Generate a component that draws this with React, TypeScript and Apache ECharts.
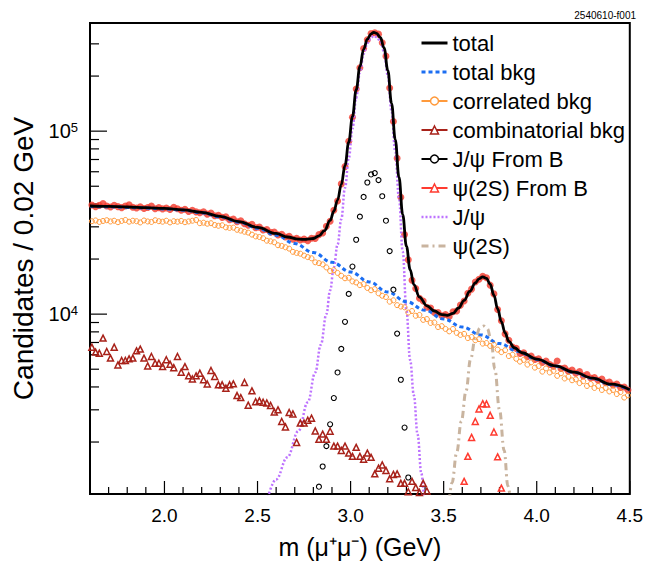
import React, { useEffect, useRef } from "react";
import * as echarts from "echarts";

const FONT = "'Liberation Sans', Arial, Helvetica, sans-serif";
const X_MIN = 1.6;
const X_MAX = 4.5;
const Y_MIN = 1040;
const Y_MAX = 3.9e5;
const BIN_START = 1.61;
const BIN_WIDTH = 0.02;

// data points (bins of 0.02 GeV from 1.61)
const DATA = [
  3.95e4, 3.86e4, 3.93e4, 4.02e4, 3.9e4, 3.85e4, 3.94e4, 3.87e4, 3.82e4, 3.9e4,
  3.96e4, 3.84e4, 3.8e4, 3.86e4, 3.78e4, 3.83e4, 3.9e4, 3.77e4, 3.82e4, 3.76e4,
  3.8e4, 3.73e4, 3.84e4, 3.77e4, 3.7e4, 3.74e4, 3.64e4, 3.7e4, 3.62e4, 3.58e4,
  3.63e4, 3.52e4, 3.57e4, 3.45e4, 3.47e4, 3.38e4, 3.4e4, 3.28e4, 3.31e4, 3.2e4,
  3.24e4, 3.12e4, 3.06e4, 3.1e4, 2.97e4, 2.99e4, 2.88e4, 2.9e4, 2.8e4, 2.81e4,
  2.71e4, 2.73e4, 2.64e4, 2.66e4, 2.57e4, 2.6e4, 2.54e4, 2.57e4, 2.52e4, 2.6e4,
  2.59e4, 2.72e4, 2.78e4, 3.02e4, 3.22e4, 3.7e4, 4.15e4, 5.15e4, 6.4e4, 8.8e4,
  1.19e5, 1.7e5, 2.22e5, 2.83e5, 3.16e5, 3.42e5, 3.45e5, 3.39e5, 3.04e5, 2.57e5,
  1.72e5, 1.13e5, 7.1e4, 4.35e4, 2.72e4, 1.98e4, 1.53e4, 1.38e4, 1.22e4, 1.18e4,
  1.09e4, 1.08e4, 1.02e4, 1.02e4, 9.8e3, 9.95e3, 9.7e3, 1.03e4, 1.04e4, 1.12e4,
  1.18e4, 1.3e4, 1.37e4, 1.5e4, 1.55e4, 1.61e4, 1.58e4, 1.44e4, 1.29e4, 1.06e4,
  9.2e3, 7.8e3, 7.2e3, 6.6e3, 6.5e3, 6.1e3, 6.15e3, 5.85e3, 5.9e3, 5.65e3,
  5.7e3, 5.45e3, 5.55e3, 5.3e3, 5.2e3, 5.55e3, 5.05e3, 5.08e3, 4.88e3, 4.95e3,
  4.75e3, 4.85e3, 4.6e3, 4.68e3, 4.48e3, 4.5e3, 4.35e3, 4.42e3, 4.22e3, 4.25e3,
  4.1e3, 4.15e3, 3.98e3, 4.0e3, 3.85e3,
];

const CORRELATED = [
  3.22e4, 3.25e4, 3.19e4, 3.23e4, 3.26e4, 3.21e4, 3.24e4, 3.18e4, 3.23e4, 3.27e4,
  3.2e4, 3.24e4, 3.22e4, 3.17e4, 3.25e4, 3.21e4, 3.19e4, 3.26e4, 3.22e4, 3.2e4,
  3.24e4, 3.17e4, 3.22e4, 3.2e4, 3.23e4, 3.18e4, 3.21e4, 3.24e4, 3.27e4, 3.14e4,
  3.16e4, 3.12e4, 3.14e4, 3.07e4, 3.04e4, 3.06e4, 2.98e4, 2.96e4, 2.97e4, 2.89e4,
  2.86e4, 2.82e4, 2.79e4, 2.72e4, 2.66e4, 2.64e4, 2.6e4, 2.52e4, 2.5e4, 2.47e4,
  2.38e4, 2.36e4, 2.32e4, 2.28e4, 2.19e4, 2.16e4, 2.14e4, 2.09e4, 2.05e4, 2.02e4,
  1.92e4, 1.9e4, 1.87e4, 1.8e4, 1.72e4, 1.74e4, 1.68e4, 1.62e4, 1.57e4, 1.58e4,
  1.51e4, 1.49e4, 1.44e4, 1.46e4, 1.39e4, 1.35e4, 1.37e4, 1.3e4, 1.26e4, 1.24e4,
  1.17e4, 1.19e4, 1.12e4, 1.1e4, 1.09e4, 1.02e4, 1.04e4, 9.8e3, 9.9e3, 9.3e3,
  9.4e3, 8.95e3, 9.0e3, 8.5e3, 8.6e3, 8.3e3, 8.05e3, 8.3e3, 7.9e3, 7.7e3,
  7.8e3, 7.4e3, 7.5e3, 7.2e3, 7.3e3, 6.9e3, 6.95e3, 6.7e3, 6.8e3, 6.4e3,
  6.2e3, 6.35e3, 5.9e3, 6.0e3, 5.7e3, 5.5e3, 5.62e3, 5.3e3, 5.45e3, 5.1e3,
  5.2e3, 4.85e3, 5.05e3, 4.8e3, 4.9e3, 4.6e3, 4.75e3, 4.45e3, 4.55e3, 4.35e3,
  4.4e3, 4.2e3, 4.3e3, 4.05e3, 4.15e3, 3.95e3, 4.05e3, 3.85e3, 3.95e3, 3.78e3,
  3.85e3, 3.66e3, 3.75e3, 3.5e3, 3.6e3,
];

const COMBINATORIAL = [
  6.6e3, 6.2e3, 6.12e3, 7.4e3, 6.25e3, 5.75e3, 6.6e3, 5.28e3, 5.58e3, 5.58e3,
  5.7e3, 5.75e3, 6.3e3, 6.44e3, 5.75e3, 5.21e3, 5.87e3, 5.39e3, 5.39e3, 5.17e3,
  5.63e3, 5.33e3, 5.1e3, 5.87e3, 4.82e3, 5.17e3, 4.6e3, 4.42e3, 4.6e3, 4.76e3,
  4.38e3, 4.15e3, 4.92e3, 4.56e3, 4.11e3, 4.11e3, 3.94e3, 4.11e3, 4.16e3, 3.59e3,
  3.5e3, 4.23e3, 3.18e3, 3.81e3, 3.32e3, 3.36e3, 3.3e3, 3.27e3, 3.17e3, 2.92e3,
  3.0e3, 2.59e3, 2.42e3, 2.9e3, 2.85e3, 1.99e3, 2.54e3, 2.54e3, 2.63e3, 2.7e3,
  2.3e3, 2.07e3, 2.21e3, 2.07e3, 2.29e3, 1.9e3, 1.9e3, 1.8e3, 1.9e3, 1.74e3,
  1.67e3, 1.87e3, 1.67e3, 1.61e3, 1.74e3, 1.65e3, 1.34e3, 1.44e3, 1.5e3, 1.4e3,
  1.26e3, 1.33e3, 1.34e3, 1.19e3, 1.19e3, 1.07e3, 1.22e3, 1.13e3, 1.06e3, 1.19e3,
  1.08e3,
];

const JPSI_B_MASS = [
  2.83, 2.85, 2.87, 2.89, 2.91, 2.93, 2.95, 2.97, 2.99, 3.01, 3.03, 3.05, 3.07,
  3.09, 3.11, 3.13, 3.15, 3.17, 3.19, 3.21, 3.23, 3.25, 3.27, 3.29, 3.31,
];
const JPSI_B = [
  1.14e3, 1.47e3, 1.9e3, 2.5e3, 3.48e3, 4.8e3, 6.46e3, 9.08e3, 1.29e4, 1.82e4,
  2.55e4, 3.41e4, 4.37e4, 5.24e4, 5.8e4, 5.9e4, 5.4e4, 4.41e4, 3.24e4, 2.21e4,
  1.36e4, 7.83e3, 4.38e3, 2.4e3, 1.28e3,
];

const PSI2S_B_MASS = [3.61, 3.63, 3.65, 3.67, 3.69, 3.71, 3.73, 3.75, 3.77, 3.79, 3.81];
const PSI2S_B = [1.22e3, 1.67e3, 2.12e3, 2.59e3, 3.03e3, 3.24e3, 3.23e3, 2.8e3, 2.27e3, 1.66e3, 1.12e3];

const TOTAL_MASS = [
  1.6, 1.7, 1.8, 1.9, 2.0, 2.1, 2.2, 2.3, 2.4, 2.5, 2.6, 2.66, 2.72, 2.76, 2.8,
  2.83, 2.86, 2.89, 2.91, 2.93, 2.95, 2.97, 2.99, 3.01, 3.03, 3.05, 3.07, 3.09,
  3.11, 3.125, 3.14, 3.16, 3.18, 3.2, 3.22, 3.24, 3.26, 3.28, 3.3, 3.32, 3.34,
  3.37, 3.41, 3.45, 3.49, 3.52, 3.55, 3.58, 3.61, 3.64, 3.67, 3.69, 3.71, 3.73,
  3.75, 3.77, 3.79, 3.81, 3.83, 3.85, 3.88, 3.92, 4.0, 4.1, 4.2, 4.3, 4.4, 4.5,
];
const TOTAL = [
  3.9e4, 3.88e4, 3.85e4, 3.82e4, 3.78e4, 3.71e4, 3.6e4, 3.42e4, 3.2e4, 2.98e4,
  2.76e4, 2.64e4, 2.57e4, 2.56e4, 2.59e4, 2.68e4, 2.86e4, 3.25e4, 3.65e4, 4.2e4,
  5.1e4, 6.5e4, 8.7e4, 1.2e5, 1.68e5, 2.25e5, 2.8e5, 3.18e5, 3.4e5, 3.47e5,
  3.42e5, 3.25e5, 2.85e5, 2.15e5, 1.42e5, 9.0e4, 5.6e4, 3.5e4, 2.35e4, 1.75e4,
  1.45e4, 1.24e4, 1.11e4, 1.04e4, 9.95e3, 9.85e3, 1.01e4, 1.08e4, 1.19e4, 1.33e4,
  1.48e4, 1.56e4, 1.6e4, 1.57e4, 1.46e4, 1.27e4, 1.07e4, 9.1e3, 7.9e3, 7.1e3,
  6.55e3, 6.15e3, 5.68e3, 5.22e3, 4.82e3, 4.47e3, 4.14e3, 3.86e3,
];

const BKG_MASS = [
  1.6, 1.7, 1.8, 1.9, 2.0, 2.1, 2.2, 2.3, 2.4, 2.5, 2.6, 2.7, 2.8, 2.9, 3.0,
  3.1, 3.2, 3.3, 3.4, 3.5, 3.6, 3.7, 3.8, 3.9, 4.0, 4.1, 4.2, 4.3, 4.4, 4.5,
];
const BKG = [
  3.88e4, 3.86e4, 3.83e4, 3.8e4, 3.76e4, 3.7e4, 3.58e4, 3.4e4, 3.18e4, 2.95e4,
  2.7e4, 2.43e4, 2.17e4, 1.92e4, 1.7e4, 1.5e4, 1.32e4, 1.17e4, 1.05e4, 9.4e3,
  8.5e3, 7.7e3, 6.9e3, 6.25e3, 5.65e3, 5.2e3, 4.8e3, 4.45e3, 4.12e3, 3.85e3,
];

const JPSI_MASS = [
  2.55, 2.6, 2.66, 2.72, 2.77, 2.81, 2.84, 2.87, 2.89, 2.91, 2.93, 2.95, 2.97,
  2.99, 3.01, 3.03, 3.05, 3.07, 3.09, 3.11, 3.125, 3.14, 3.16, 3.18, 3.2, 3.22,
  3.24, 3.26, 3.28, 3.3, 3.32, 3.34, 3.36, 3.38, 3.395,
];
const JPSI = [
  950, 1.25e3, 1.65e3, 2.3e3, 3.3e3, 4.8e3, 6.8e3, 1.0e4, 1.35e4, 1.8e4, 2.4e4,
  3.3e4, 4.9e4, 7.1e4, 1.03e5, 1.52e5, 2.09e5, 2.65e5, 3.03e5, 3.25e5, 3.32e5,
  3.27e5, 3.1e5, 2.71e5, 2.02e5, 1.29e5, 7.7e4, 4.3e4, 2.2e4, 1.05e4, 5.6e3,
  3.6e3, 2.2e3, 1.35e3, 950,
];

const PSI2S_MASS = [
  3.53, 3.545, 3.57, 3.595, 3.62, 3.645, 3.67, 3.695, 3.715, 3.735, 3.755, 3.775,
  3.8, 3.825, 3.845, 3.86,
];
const PSI2S = [
  950, 1.2e3, 1.75e3, 2.6e3, 3.8e3, 5.7e3, 7.4e3, 8.4e3, 8.6e3, 8.3e3, 7.2e3,
  5.0e3, 3.0e3, 1.8e3, 1.15e3, 950,
];

const X_MAJOR = [2.0, 2.5, 3.0, 3.5, 4.0, 4.5];
const X_MINOR = [
  1.7, 1.8, 1.9, 2.1, 2.2, 2.3, 2.4, 2.6, 2.7, 2.8, 2.9, 3.1, 3.2, 3.3, 3.4,
  3.6, 3.7, 3.8, 3.9, 4.1, 4.2, 4.3, 4.4,
];
const Y_MAJOR = [1e4, 1e5];
const Y_MINOR = [
  2e3, 3e3, 4e3, 5e3, 6e3, 7e3, 8e3, 9e3, 2e4, 3e4, 4e4, 5e4, 6e4, 7e4, 8e4,
  9e4, 2e5, 3e5,
];

const C_DATA = "#f3392c";
const C_BKG = "#1c6ef2";
const C_CORR = "#ff9a3c";
const C_COMB = "#a8221a";
const C_PSI2S_B = "#ff3b30";
const C_JPSI = "#bd73ff";
const C_PSI2S = "#c9b49f";

const bins = (values: number[]) =>
  values.map((v, i) => [+(BIN_START + i * BIN_WIDTH).toFixed(2), v]);
const pairs = (xs: number[], ys: number[]) => xs.map((x, i) => [x, ys[i]]);

export default function App() {
  const ref = useRef<HTMLDivElement>(null);
  useEffect(() => {
    if (!ref.current) return;
    const chart = echarts.init(ref.current, null, { renderer: "svg" });

    const markerSeries = (
      name: string,
      data: number[][],
      symbol: string,
      size: number,
      color: string,
      bw: number
    ) => ({
      type: "line",
      name,
      data,
      symbol,
      symbolSize: size,
      showSymbol: true,
      lineStyle: { width: 0 },
      itemStyle: { color: "rgba(0,0,0,0)", borderColor: color, borderWidth: bw },
      emphasis: { disabled: true },
      silent: true,
      clip: true,
    });

    const curve = (name: string, data: number[][], color: string, width: number, type: any) => ({
      type: "line",
      name,
      data,
      symbol: "none",
      smooth: 0.4,
      smoothMonotone: "x",
      lineStyle: { color, width, type },
      itemStyle: { color },
      emphasis: { disabled: true },
      silent: true,
      clip: true,
    });

    const tickStyle = { stroke: "#000", lineWidth: 1.2 };

    chart.setOption({
      animation: false,
      backgroundColor: "#fff",
      textStyle: { fontFamily: FONT },
      grid: {
        left: 90,
        top: 23,
        width: 542,
        height: 471,
        show: true,
        borderColor: "#000",
        borderWidth: 2,
        backgroundColor: "transparent",
      },
      graphic: [
        {
          type: "text",
          right: 10,
          top: 10,
          style: { text: "2540610-f001", fontSize: 10, fontFamily: FONT, fill: "#000" },
        },
      ],
      legend: {
        orient: "vertical",
        left: 415,
        top: 27,
        itemWidth: 26,
        itemHeight: 10,
        itemGap: 7,
        selectedMode: false,
        textStyle: { fontSize: 22, color: "#000", fontFamily: FONT },
        data: [
          { name: "total", itemStyle: { opacity: 0 }, lineStyle: { width: 3, color: "#000", type: "solid", opacity: 1 } },
          { name: "total bkg", itemStyle: { opacity: 0 }, lineStyle: { width: 3, color: C_BKG, type: [4, 3], opacity: 1 } },
          { name: "correlated bkg", itemStyle: { color: "#fff", borderColor: C_CORR, borderWidth: 1.5 }, lineStyle: { width: 2, color: C_CORR, type: "solid", opacity: 1 } },
          { name: "combinatorial bkg", itemStyle: { color: "#fff", borderColor: C_COMB, borderWidth: 1.5 }, lineStyle: { width: 2, color: C_COMB, type: "solid", opacity: 1 } },
          { name: "J/\u03c8 From B", itemStyle: { color: "#fff", borderColor: "#000", borderWidth: 1.5 }, lineStyle: { width: 2, color: "#000", type: "solid", opacity: 1 } },
          { name: "\u03c8(2S) From B", itemStyle: { color: "#fff", borderColor: C_PSI2S_B, borderWidth: 1.5 }, lineStyle: { width: 2, color: C_PSI2S_B, type: "solid", opacity: 1 } },
          { name: "J/\u03c8", itemStyle: { opacity: 0 }, lineStyle: { width: 2.5, color: C_JPSI, type: [2, 2], opacity: 1 } },
          { name: "\u03c8(2S)", itemStyle: { opacity: 0 }, lineStyle: { width: 3, color: C_PSI2S, type: [7, 4, 2, 4], opacity: 1 } },
        ],
      },
      xAxis: {
        type: "value",
        min: X_MIN,
        max: X_MAX,
        splitNumber: 5,
        axisLine: { show: false },
        axisTick: { show: false },
        splitLine: { show: false },
        axisLabel: {
          fontSize: 19,
          color: "#000",
          fontFamily: FONT,
          margin: 12,
          showMinLabel: false,
          formatter: (v: number) => v.toFixed(1),
        },
        name: "m (\u03bc\u207a\u03bc\u207b) (GeV)",
        nameLocation: "middle",
        nameGap: 40,
        nameTextStyle: { fontSize: 25, color: "#000", fontFamily: FONT },
      },
      yAxis: {
        type: "log",
        logBase: 10,
        min: Y_MIN,
        max: Y_MAX,
        axisLine: { show: false },
        axisTick: { show: false },
        splitLine: { show: false },
        axisLabel: {
          color: "#000",
          fontFamily: FONT,
          margin: 12,
          showMinLabel: false,
          showMaxLabel: false,
          formatter: (v: number) => {
            const e = Math.round(Math.log10(v));
            if (Math.abs(Math.log10(v) - e) > 1e-6) return "";
            return "{b|10}{s|" + e + "}";
          },
          rich: {
            b: { fontSize: 20, lineHeight: 20, color: "#000", fontFamily: FONT },
            s: { fontSize: 13, lineHeight: 13, color: "#000", fontFamily: FONT, verticalAlign: "top" },
          },
        },
        name: "Candidates / 0.02 GeV",
        nameLocation: "middle",
        nameGap: 52,
        nameTextStyle: { fontSize: 28, color: "#000", fontFamily: FONT },
      },
      series: [
        {
          type: "scatter",
          name: "data",
          data: bins(DATA),
          symbol: "circle",
          symbolSize: 7,
          itemStyle: { color: C_DATA },
          silent: true,
          emphasis: { disabled: true },
        },
        markerSeries("correlated bkg", bins(CORRELATED), "circle", 5, C_CORR, 1),
        markerSeries("combinatorial bkg", bins(COMBINATORIAL), "triangle", 6, C_COMB, 1.5),
        markerSeries("J/\u03c8 From B", pairs(JPSI_B_MASS, JPSI_B), "circle", 5, "#000", 1.1),
        markerSeries("\u03c8(2S) From B", pairs(PSI2S_B_MASS, PSI2S_B), "triangle", 6, C_PSI2S_B, 1.5),
        curve("J/\u03c8", pairs(JPSI_MASS, JPSI), C_JPSI, 2.5, [2, 2]),
        curve("\u03c8(2S)", pairs(PSI2S_MASS, PSI2S), C_PSI2S, 3, [7, 4, 2, 4]),
        curve("total bkg", pairs(BKG_MASS, BKG), C_BKG, 3, [4, 3]),
        curve("total", pairs(TOTAL_MASS, TOTAL), "#000", 2.8, "solid"),
        {
          type: "custom",
          name: "xticks",
          silent: true,
          data: X_MAJOR.map((m) => [m, Y_MIN, 13]).concat(X_MINOR.map((m) => [m, Y_MIN, 7])),
          encode: { x: 0, y: 1 },
          renderItem: (params: any, api: any) => {
            const p = api.coord([api.value(0), api.value(1)]);
            const len = api.value(2);
            return { type: "line", shape: { x1: p[0], y1: p[1], x2: p[0], y2: p[1] - len }, style: tickStyle };
          },
        },
        {
          type: "custom",
          name: "yticks",
          silent: true,
          data: Y_MAJOR.map((v) => [X_MIN, v, 17]).concat(Y_MINOR.map((v) => [X_MIN, v, 9])),
          encode: { x: 0, y: 1 },
          renderItem: (params: any, api: any) => {
            const p = api.coord([api.value(0), api.value(1)]);
            const len = api.value(2);
            return { type: "line", shape: { x1: p[0], y1: p[1], x2: p[0] + len, y2: p[1] }, style: tickStyle };
          },
        },
      ],
    });
    return () => chart.dispose();
  }, []);
  return (
    <div
      ref={ref}
      style={{ position: "fixed", left: 0, top: 0, width: 646, height: 570, background: "#fff" }}
    />
  );
}
